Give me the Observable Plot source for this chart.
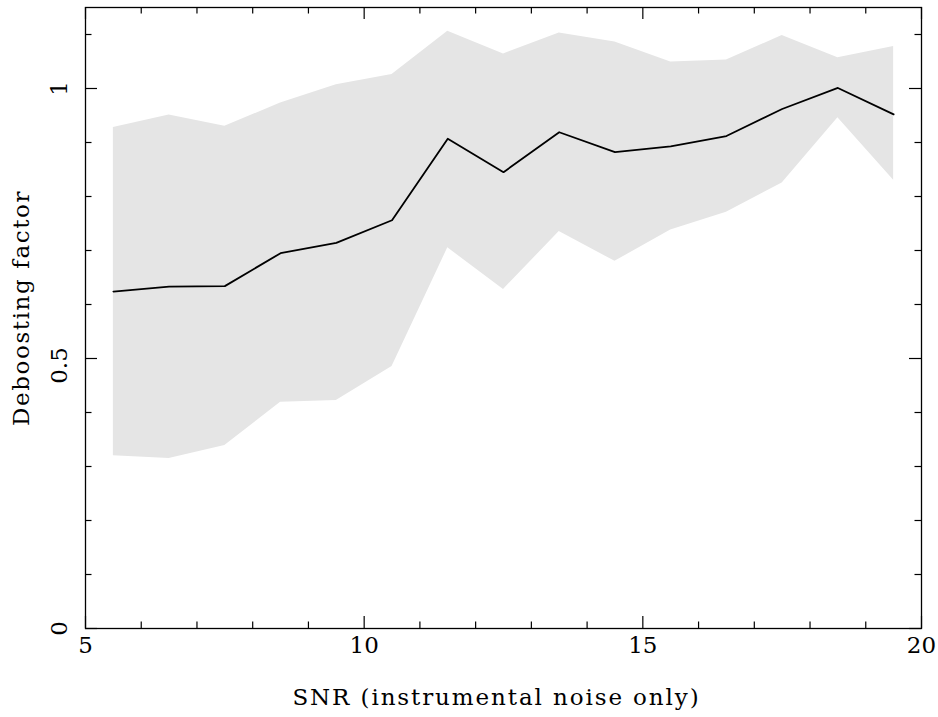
<!DOCTYPE html>
<html><head><meta charset="utf-8">
<script src="https://cdn.jsdelivr.net/npm/d3@7"></script>
<script src="https://cdn.jsdelivr.net/npm/@observablehq/plot@0.6"></script>
<style>body{margin:0;background:#fff}</style>
</head><body><div id="chart"></div>
<script>
const snr = [5.5, 6.5, 7.5, 8.5, 9.5, 10.5, 11.5, 12.5, 13.5, 14.5, 15.5, 16.5, 17.5, 18.5, 19.5];
const factor = [0.624, 0.633, 0.634, 0.695, 0.714, 0.756, 0.907, 0.845, 0.919, 0.882, 0.893, 0.912, 0.962, 1.001, 0.952];
const upper = [0.928, 0.951, 0.930, 0.973, 1.007, 1.026, 1.106, 1.064, 1.103, 1.086, 1.049, 1.053, 1.098, 1.057, 1.078];
const lower = [0.320, 0.315, 0.339, 0.419, 0.422, 0.485, 0.705, 0.628, 0.735, 0.680, 0.738, 0.771, 0.825, 0.946, 0.830];
const xMajor = [5, 10, 15, 20];
const xMinor = [6, 7, 8, 9, 11, 12, 13, 14, 16, 17, 18, 19];
const yMajor = [0, 0.5, 1];
const yMinor = [0.1, 0.2, 0.3, 0.4, 0.6, 0.7, 0.8, 0.9, 1.1];
const yLabelEnds = [0, 1];
const yLabelMid = [0.5];
const xTitle = "SNR (instrumental noise only)";
const yTitle = "Deboosting factor";

const data = snr.map((x, i) => ({x, y: factor[i], lo: lower[i], hi: upper[i]}));

const W = 938, H = 717, mL = 85, mR = 17, mT = 7, mB = 89;
const pw = W - mL - mR, ph = H - mT - mB;
const major = 12, minor = 6.5;
const fs = 23;
const tick = {stroke: "#000", strokeWidth: 1.2};
const txt = {fontSize: fs, fill: "#000"};

const chart = Plot.plot({
  width: W, height: H,
  marginLeft: mL, marginRight: mR, marginTop: mT, marginBottom: mB,
  style: {fontFamily: "DejaVu Serif", background: "#fff", color: "#000"},
  x: {domain: [5, 20], axis: null},
  y: {domain: [0, 1.15], axis: null},
  marks: [
    Plot.areaY(data, {x: "x", y1: "lo", y2: "hi", fill: "#e5e5e5"}),
    Plot.line(data, {x: "x", y: "y", stroke: "#000", strokeWidth: 1.8}),
    // bottom ticks
    Plot.tickX(xMajor, {x: d => d, insetTop: ph - major, ...tick}),
    Plot.tickX(xMinor, {x: d => d, insetTop: ph - minor, ...tick}),
    // top ticks
    Plot.tickX(xMajor, {x: d => d, insetBottom: ph - major, ...tick}),
    Plot.tickX(xMinor, {x: d => d, insetBottom: ph - minor, ...tick}),
    // left ticks
    Plot.tickY(yMajor, {y: d => d, insetRight: pw - major, ...tick}),
    Plot.tickY(yMinor, {y: d => d, insetRight: pw - minor, ...tick}),
    // right ticks
    Plot.tickY(yMajor, {y: d => d, insetLeft: pw - major, ...tick}),
    Plot.tickY(yMinor, {y: d => d, insetLeft: pw - minor, ...tick}),
    Plot.frame({stroke: "#000", strokeWidth: 1.3}),
    // tick labels
    Plot.text(xMajor, {x: d => d, frameAnchor: "bottom", dy: 24, text: d => String(d), ...txt}),
    Plot.text(yLabelEnds, {y: d => d, frameAnchor: "left", textAnchor: "middle", dx: -26, rotate: -90, text: d => String(d), ...txt}),
    Plot.text(yLabelMid, {y: d => d, frameAnchor: "left", textAnchor: "middle", dx: -26, dy: 7, rotate: -90, text: d => String(d), ...txt}),
    // titles
    Plot.text([xTitle], {frameAnchor: "bottom", dx: -7, dy: 76, text: d => d, ...txt}),
    Plot.text([yTitle], {frameAnchor: "left", textAnchor: "middle", dx: -64, dy: -10, rotate: -90, text: d => d, ...txt})
  ]
});
d3.select(chart).selectAll("text").filter(function () { return this.textContent === xTitle; }).style("letter-spacing", "1.9px");
d3.select(chart).selectAll("text").filter(function () { return this.textContent === yTitle; }).style("letter-spacing", "1.6px");
document.getElementById("chart").append(chart);
</script>
</body></html>
